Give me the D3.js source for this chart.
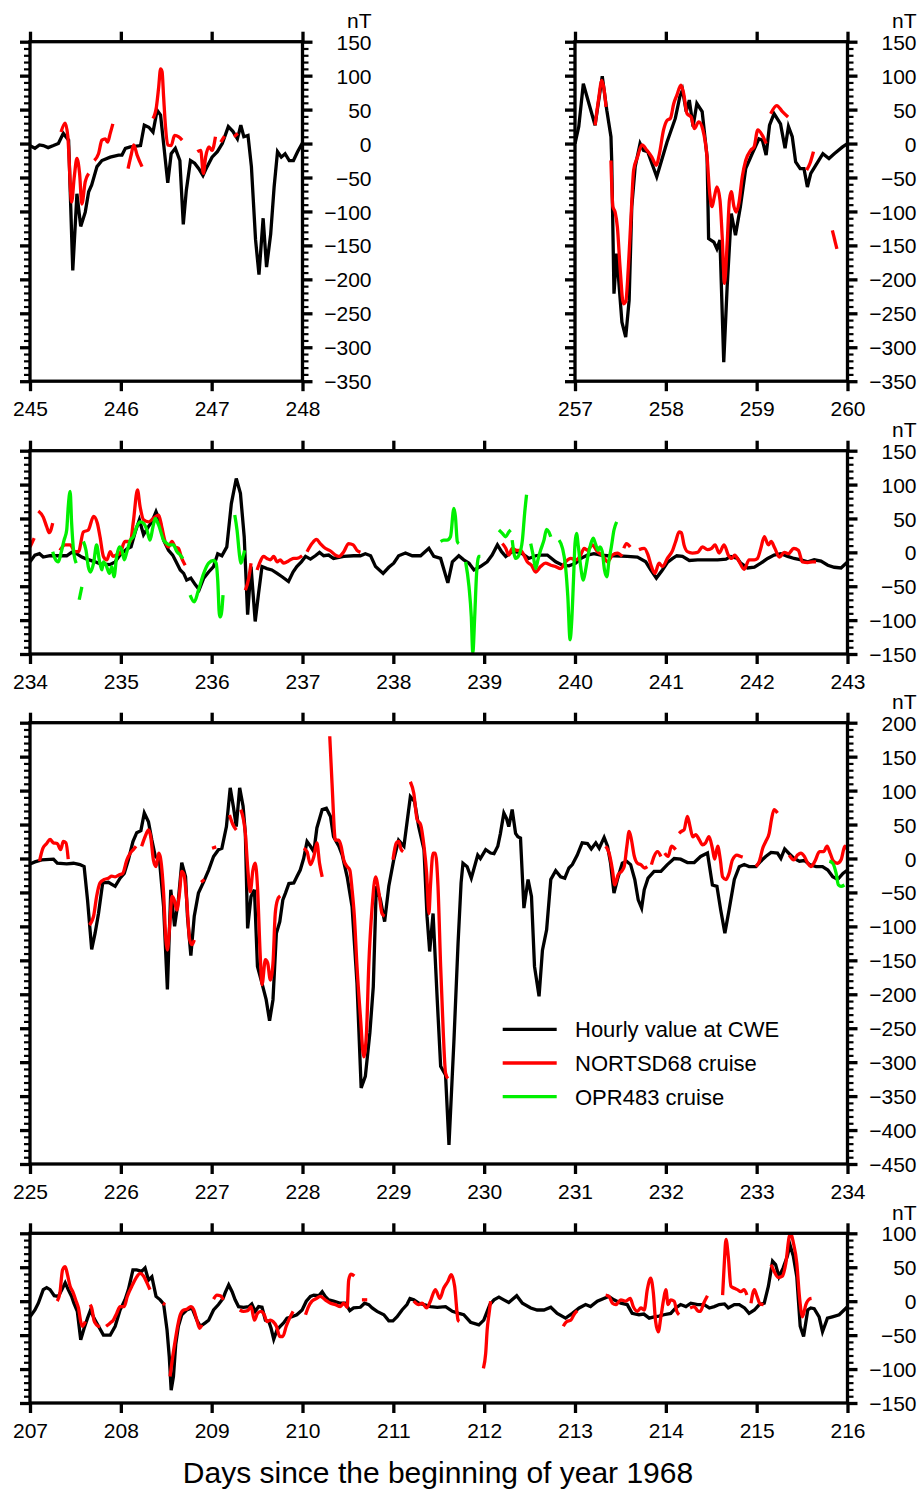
<!DOCTYPE html>
<html><head><meta charset="utf-8">
<script src="https://cdn.jsdelivr.net/npm/d3@7"></script>
<style>body{margin:0;background:#fff}svg text{font-family:"Liberation Sans",Arial,Helvetica,sans-serif;fill:#000}</style>
</head><body><svg id="c" width="922" height="1489"></svg>
<script>
// ---------- DATA (time as hours since each panel's start day, values in nT) ----------
const seriesNames = ["Hourly value at CWE", "NORTSD68 cruise", "OPR483 cruise"];
const xTitle = "Days since the beginning of year 1968";
const unitLabel = "nT";

// Panel A: days 245-248
const daysA = [245, 248], nTA = [-350, 150];
const cweA = [[0,-3],[1.3,-7],[2.5,-2],[3.5,-3],[4.8,-6],[6.2,-3],[7.5,0],[8.8,15],[10.2,5],[11.3,-187],[12.4,-74],[13.4,-122],[14.6,-101],[15.5,-71],[16.3,-61],[17.7,-34],[19,-25],[21.2,-20],[23.4,-17],[24.3,-17],[25.2,-7],[26.5,-5],[29.2,-3],[30.2,27],[31.4,24],[32.5,17],[33.6,49],[34.5,42],[35.3,0],[36.4,-58],[37.3,-15],[38.4,-7],[39.6,-25],[40.5,-119],[41.3,-69],[42.4,-25],[43.5,-29],[44.6,-37],[45.7,-47],[46.8,-34],[48.1,-20],[49.5,-12],[50.8,0],[52.4,25],[53.6,18],[54.8,7],[55.7,27],[56.5,10],[57.6,12],[58.5,-34],[59.6,-142],[60.5,-193],[61.6,-110],[62.5,-182],[63.6,-133],[64.5,-64],[65.4,-12],[66.4,-20],[67.4,-15],[68.5,-25],[69.6,-25],[70.7,-12],[72,1]];
const nortA = [
 [[8.2,17],[9.3,30],[10.0,10],[11.0,-86],[11.7,-49],[12.4,-22],[13.1,-44],[13.7,-89],[14.6,-56],[15.5,-44]],
 [[17.0,-25],[18.1,-15],[19.0,5],[19.9,7],[20.5,2],[21.2,15],[21.9,29]],
 [[25.9,-37],[26.8,-15],[27.4,-2],[28.3,-17],[29.6,-34]],
 [[32.5,37],[33.4,54],[34.0,83],[34.5,110],[34.9,106],[35.3,69],[35.8,25],[36.4,-2],[37.3,-3],[38.2,12],[39.3,10],[40.2,5]],
 [[44.2,-12],[45.1,-10],[45.8,-44],[46.4,-20],[47.3,-5],[48.1,-10],[49.0,10]],
 [[50.4,2],[51.4,11]],
 [[53.9,10],[54.9,15]]
];
const oprA = [];

// Panel B: days 257-260
const daysB = [257, 260], nTB = [-350, 150];
const cweB = [[0,0],[1,25],[2.2,88],[5.3,27],[7.2,99],[8.4,49],[9.5,10],[9.7,-25],[10.3,-221],[11.0,-162],[12.4,-263],[13.4,-285],[14.3,-231],[15.0,-93],[15.9,-34],[17.2,0],[18.1,-10],[19.2,-12],[21.6,-49],[22.5,-32],[24.3,2],[26.5,37],[27.7,69],[28.4,79],[29.4,47],[30.2,64],[31.2,25],[32.2,59],[33.6,47],[34.9,-20],[35.3,-140],[36.7,-145],[37.5,-155],[38.3,-142],[39.3,-322],[40.2,-211],[41.3,-103],[42.4,-135],[43.7,-93],[45.1,-37],[46.8,-15],[48.6,7],[49.5,5],[50.5,-17],[51.4,27],[52.6,44],[54.3,29],[55.5,-7],[56.4,25],[57.4,10],[58.3,-27],[59.5,-37],[60.5,-37],[61.4,-64],[62.3,-44],[63.6,-32],[65.5,-15],[67.1,-22],[68.5,-15],[70.7,-5],[72,0]];
const nortB = [
 [[5.3,27],[6.2,64],[7.1,93],[7.7,79],[8.2,54]],
 [[9.5,-25],[10.0,-93],[10.6,-101],[11.2,-123],[11.9,-182],[12.8,-236],[13.4,-233],[14.1,-182],[14.8,-108],[15.5,-39],[16.5,-20],[17.7,-2],[19.0,-10],[20.3,-20],[21.5,-32],[22.3,-15],[23.4,20],[24.3,34],[25.2,37],[26.1,59],[26.9,71],[28.0,86],[28.7,74],[29.6,44],[30.7,39],[31.5,22],[32.7,32],[33.8,20],[34.9,-20],[35.6,-74],[36.2,-93],[36.8,-79],[37.5,-64],[38.3,-83],[38.9,-138],[39.5,-206],[40.2,-147],[40.8,-83],[41.3,-71],[42.0,-93],[42.6,-101],[43.3,-88],[44.2,-49],[45.1,-25],[46.4,-10],[47.3,-5],[48.3,20],[49.5,12],[50.5,0]],
 [[51.7,44],[53.3,56],[54.8,47],[56.3,39]],
 [[61.2,-39],[62.1,-29],[63.0,-12]],
 [[68.0,-128],[69.2,-155]]
];
const oprB = [];

// Panel C: days 234-243
const daysC = [234, 243], nTC = [-150, 150];
const cweC = [[0,-14],[1.3,-4],[2.5,-2],[3.5,-7],[5.3,-5],[7.5,-5],[9.7,-5],[11,0],[12.3,-2],[13.7,-7],[15,-10],[17.2,-14],[18.5,-17],[21.2,-18],[22.5,-14],[23.8,-4],[25.6,5],[26.7,8],[27.8,30],[28.9,48],[30,26],[31.3,38],[32.2,45],[33.3,60],[34.4,45],[35.3,18],[36.6,3],[37.7,-4],[38.6,-14],[39.7,-26],[40.6,-31],[41.4,-41],[42.5,-38],[43.7,-48],[44.7,-55],[45.9,-38],[47.2,-29],[48.5,-21],[49.6,-2],[50.7,-5],[52,8],[53.2,72],[54.5,109],[55.6,87],[56.6,23],[57.5,-92],[58.4,-21],[59.5,-102],[60.4,-60],[61.3,-21],[62.6,-24],[63.9,-26],[65.3,-31],[66.6,-36],[68.3,-43],[69.5,-29],[70.5,-21],[71.7,-14],[72.8,-6],[74.1,-10],[75.4,-5],[76.5,0],[77.6,-5],[78.9,-4],[80.2,-9],[82.9,-6],[85.5,-5],[87.3,-5],[88.6,-2],[90,-5],[91.3,-21],[93.3,-31],[94.8,-22],[96.1,-16],[97.4,-5],[99.2,-1],[101,-5],[103.2,-5],[105.4,6],[106.7,-6],[108.5,-9],[110.4,-45],[111.6,-14],[113.3,-5],[114.6,-11],[116,-16],[117.3,-26],[119,-21],[120.8,-14],[122.1,-4],[123.5,11],[124.6,1],[125.7,-6],[127.4,1],[129.6,0],[131.8,-9],[133.6,-5],[134.9,-4],[136.7,-4],[138.9,-14],[140.7,-19],[142.4,-20],[144.2,-16],[145.5,-9],[147.3,-4],[149,-2],[150.8,-4],[152.6,-5],[154.3,-5],[157.8,-6],[160.5,-7],[162.7,-14],[164,-26],[165.5,-38],[167.1,-26],[168.4,-15],[169.8,-9],[170.9,-5],[172.4,-6],[174.2,-12],[176.4,-11],[179,-11],[181.7,-11],[183.9,-10],[185.2,-6],[186.9,-9],[187.8,-16],[189.6,-23],[191.4,-22],[193.1,-16],[194.9,-9],[196.6,-4],[198.4,-2],[200.2,-6],[201.9,-9],[203.7,-11],[205.5,-14],[207.2,-11],[209,-13],[210.8,-19],[212.5,-22],[214.3,-23],[216,-14]];
const nortC = [
 [[0,8],[1.1,21]],
 [[2.2,61],[3.5,52],[4.4,38],[5.1,29],[6.0,43]],
 [[7.9,3],[9.3,11],[10.6,11],[11.9,1],[12.8,1],[14.1,30],[15.4,33],[16.8,53],[17.8,43],[18.5,23],[19.4,-6],[20.3,-11],[21.2,1],[21.9,-6],[22.8,-4],[23.8,-1],[25.1,16],[26.5,16],[27.3,45],[28.4,92],[29.1,67],[30.0,48],[31.3,45],[32.6,50],[34.0,55],[34.8,38],[35.7,16],[36.6,8],[37.5,16],[38.4,8],[39.2,6],[40.1,-9],[41.0,-19]],
 [[56.9,-56],[57.8,-38],[58.4,-16]],
 [[60.0,-26],[60.8,-14],[61.7,-6],[62.6,-9],[63.5,-11],[64.4,-6],[65.3,-14],[66.1,-11],[67.0,-16],[67.9,-14],[68.8,-11],[69.7,-9],[70.5,-9],[71.9,-5]],
 [[73.2,1],[74.5,13],[75.7,19],[76.7,13],[78.0,6],[79.4,2],[80.7,-4],[81.6,-6],[82.9,1],[84.2,13],[85.4,11],[86.4,3],[87.3,0]],
 [[124.8,13],[125.7,6],[126.5,-4],[127.4,6],[128.6,3],[129.6,3],[130.5,-4],[131.4,-14],[132.5,-19],[133.6,-29],[134.9,-21],[136.2,-16],[137.6,-19],[138.9,-21],[140.2,-24],[141.5,-14],[142.9,-9],[144.2,-11],[145.5,-4],[146.4,6],[147.3,3],[148.6,11],[149.9,1],[151.2,-4],[152.6,-14],[153.9,-4],[155.2,-1],[156.5,-6]],
 [[156.9,6],[157.6,13],[158.6,8]],
 [[160.9,4],[162.3,6],[163.3,-4],[164.2,-21],[165.1,-31],[166.2,-16],[167.1,-21],[168.4,-9],[169.8,3],[170.6,16],[171.5,30],[172.1,29],[172.8,11],[173.7,1],[175.0,-1],[176.4,0],[177.7,8],[179.0,4],[180.1,6],[181.0,11],[182.1,-1],[183.4,11],[184.5,-4],[185.4,-9],[186.2,-4],[187.4,-14],[188.7,-25],[190.0,-11],[191.4,-11],[192.2,-9],[193.1,6],[194.0,23],[195.1,11],[195.8,16],[196.8,6],[198.0,-7],[199.3,0],[200.4,-2],[201.8,6],[203.0,3],[204.1,-14],[205.5,-15],[206.8,-14],[207.7,-14]]
];
const oprC = [
 [[6.0,1],[6.6,-9],[7.5,-14],[8.2,-1],[9.0,18],[9.7,33],[10.1,67],[10.6,90],[11.0,43],[11.5,3],[12.2,-16]],
 [[13.0,-70],[13.7,-51]],
 [[14.1,16],[14.8,3],[15.4,-21],[16.0,-29],[16.8,-16],[17.6,11],[18.3,-11],[19.0,-26],[19.4,-14],[20.1,-19],[21.0,-31],[21.6,-21],[22.2,-36],[22.9,-6],[23.6,8],[24.3,3],[24.9,-11],[25.6,1],[26.5,18],[27.3,23],[28.2,38],[29.1,45],[30.0,43],[30.9,33],[31.7,18],[32.5,38],[33.1,50],[34.0,40],[35.3,18],[36.2,13],[37.0,11],[37.9,11],[38.8,1],[39.7,-4],[40.4,-9]],
 [[42.3,-63],[43.4,-73],[44.5,-56],[45.9,-31],[47.2,-16],[48.5,-12],[49.2,-16],[49.6,-41],[50.1,-95],[50.4,-95],[51.0,-63]],
 [[54.1,55],[54.7,33],[55.4,-6],[55.7,-16],[56.3,-6],[56.7,3]],
 [[108.5,16],[109.3,18],[110.2,18],[111.1,23],[112.0,65],[112.4,53],[112.9,16],[113.3,13]],
 [[115.1,-14],[116.0,-51],[116.6,-95],[117.0,-148],[117.5,-95],[118.0,-31],[118.6,-6],[119.0,-6]],
 [[123.9,33],[124.8,28],[125.7,23],[126.5,30],[127.0,33]],
 [[127.4,18],[128.3,-9],[129.2,-4],[130.1,18],[130.7,58],[131.2,85]],
 [[132.3,13],[133.0,-6],[133.6,-24],[134.2,-11],[134.9,3],[135.8,18],[136.5,34],[137.1,30],[137.6,23]],
 [[139.8,18],[140.7,6],[141.5,-21],[142.1,-65],[142.7,-129],[143.1,-105],[143.6,-41],[144.0,13],[144.4,28],[144.9,8],[145.5,-21],[146.2,-41],[146.8,-26],[147.4,-6],[148.1,11],[148.8,21],[149.4,13],[150.1,3],[150.6,8],[151.2,1],[151.8,-26],[152.4,-36],[153.0,-11],[153.6,8],[154.3,33],[155.0,45]]
];

// Panel D: days 225-234
const daysD = [225, 234], nTD = [-450, 200];
const cweD = [[0,-8],[1.3,-5],[3.1,-2],[6.2,-1],[7.2,-7],[9.7,-8],[11.5,-7],[13.2,-9],[14.3,-12],[15.2,-61],[16.3,-134],[17.2,-110],[18.1,-81],[19.2,-36],[20.7,-35],[22.5,-41],[23.8,-29],[24.9,-22],[26.0,-2],[27.2,25],[28.2,38],[29.3,41],[30.2,67],[31.3,54],[32.2,27],[33.1,3],[34.2,-2],[35.3,-71],[36.3,-193],[37.2,-46],[38.2,-100],[39.2,-61],[40.1,-6],[41.1,-27],[41.6,-85],[42.5,-143],[43.4,-85],[44.5,-51],[45.9,-34],[47.2,-17],[48.5,3],[49.8,13],[50.7,15],[51.9,47],[52.9,104],[53.8,74],[54.5,47],[55.4,104],[56.3,77],[56.9,37],[57.5,-103],[58.4,-56],[59.3,-46],[60.1,-159],[61.3,-184],[62.4,-208],[63.3,-239],[64.2,-208],[65.1,-110],[66.0,-93],[66.8,-61],[67.5,-51],[68.4,-37],[69.7,-36],[70.5,-27],[71.4,-17],[72.3,0],[73.2,25],[74.1,18],[75.0,10],[75.8,45],[77.2,72],[78.3,74],[79.4,62],[80.2,32],[81.6,18],[82.5,5],[83.8,-27],[85.1,-71],[86.4,-184],[87.5,-338],[88.6,-321],[89.8,-257],[90.7,-189],[91.5,-41],[92.6,-61],[93.7,-93],[94.8,-41],[96.1,-2],[97.4,27],[98.8,18],[100.5,91],[101.6,84],[102.7,47],[104.1,13],[104.9,-85],[105.6,-137],[106.5,-81],[107.6,-208],[108.5,-306],[109.8,-319],[110.7,-422],[112.0,-270],[113.1,-125],[113.9,-36],[114.4,-7],[115.5,-12],[116.6,-29],[117.7,-7],[118.3,5],[119.0,0],[120.4,13],[121.7,8],[122.6,7],[123.6,18],[124.3,37],[125.2,67],[125.9,59],[126.5,47],[127.4,72],[128.3,37],[128.9,32],[129.6,30],[130.5,-73],[131.6,-31],[132.5,-56],[133.3,-159],[134.5,-203],[135.4,-135],[136.5,-105],[137.6,-31],[138.9,-18],[140.2,-27],[141.3,-29],[142.4,-14],[143.3,-9],[144.6,5],[145.9,23],[147.3,22],[148.3,14],[149.5,23],[150.4,15],[151.7,31],[152.6,18],[153.4,-7],[154.3,-51],[155.2,-31],[156.5,-7],[157.6,-4],[158.7,-9],[159.8,-31],[160.7,-61],[161.6,-73],[162.3,-46],[163.3,-29],[164.9,-19],[166.7,-19],[168.4,-9],[170.2,0],[171.9,-1],[173.7,-6],[175.5,-6],[177.2,3],[179.0,8],[180.3,-39],[181.5,-41],[182.5,-76],[183.6,-110],[184.7,-76],[186.1,-31],[187.4,-12],[188.7,-9],[190.0,-12],[191.8,-12],[193.1,-4],[194.4,3],[195.8,9],[197.5,8],[198.4,0],[199.4,14],[200.6,7],[201.9,0],[203.3,-4],[204.6,-3],[206.0,-9],[207.7,-12],[209.4,-12],[210.8,-17],[212.1,-27],[213.4,-31],[214.8,-22],[216,-17]];
const nortD = [
 [[2.5,-4],[3.4,15],[4.4,22],[5.3,28],[6.2,23],[7.2,22],[8.1,13],[8.8,25],[9.5,23],[10.1,-1]],
 [[15.7,-98],[16.8,-85],[17.6,-56],[18.5,-36],[19.6,-31],[20.7,-29],[21.6,-26],[22.5,-27],[23.6,-24],[24.5,-22],[25.6,-2],[26.5,8],[27.3,13],[28.0,18]],
 [[29.5,18],[30.4,32],[31.3,42],[31.9,32],[32.6,-2],[33.3,-12],[34.0,8],[34.4,3],[35.3,-51],[35.9,-120],[36.3,-135],[36.9,-100],[37.5,-56],[38.1,-61],[38.8,-76],[39.5,-51],[40.1,-19],[40.7,-24],[41.4,-61],[42.2,-120],[42.8,-127],[43.4,-120]],
 [[45.2,-35],[46.1,-31]],
 [[48.1,15],[49.2,17]],
 [[52.7,64],[53.6,50],[54.5,42]],
 [[55.7,72],[56.9,37],[57.5,-12],[58.2,-49],[58.9,-17],[59.5,-7],[60.1,-41],[60.8,-139],[61.3,-186],[62.2,-149],[62.8,-154],[63.5,-179],[64.2,-154],[64.8,-81],[65.4,-61],[66.1,-55]],
 [[72.3,15],[73.2,10],[74.1,-9],[75.0,3],[75.8,23],[76.5,-7],[77.2,-27]],
 [[79.2,180],[79.8,111],[80.7,27],[81.6,27],[82.2,18],[82.9,-2],[83.8,-12],[84.5,-17],[85.1,-46],[85.7,-85],[86.4,-159],[87.3,-233],[88.2,-292],[88.9,-257],[89.5,-159],[90.4,-71],[91.3,-27],[92.2,-51],[93.0,-81],[93.7,-85]],
 [[95.9,-2],[96.8,23],[97.4,25],[98.1,13],[98.6,10]],
 [[100.5,113],[101.4,96],[102.3,57],[103.2,50],[104.1,18],[104.8,-22],[105.4,-81],[105.8,-41],[106.5,8],[107.1,8],[107.8,-41],[108.5,-159],[109.2,-257],[109.8,-316],[110.4,-324]],
 [[152.1,18],[153.0,8],[153.9,-17],[154.5,-39],[155.4,-24],[156.3,-19],[157.0,-12],[157.7,18],[158.3,40],[158.9,28],[159.6,5],[160.5,-7],[161.4,-9],[162.4,-14],[163.1,-12]],
 [[164.2,-9],[164.9,3],[165.8,10],[166.7,3]],
 [[167.7,8],[168.6,3],[169.5,18],[170.6,13]],
 [[171.5,37],[172.1,40],[172.8,42],[173.7,62],[174.4,47],[175.1,32],[175.9,35],[176.8,28],[177.7,20],[178.5,23],[179.4,32],[180.3,15],[180.9,-1],[181.7,18],[182.4,-2],[183.0,-27],[183.9,-31],[184.7,-22],[185.6,-2],[186.8,5],[187.8,3],[188.3,2]],
 [[191.8,-12],[192.7,-4],[193.6,15],[194.4,25],[195.3,37],[195.9,57],[196.6,72],[197.5,67]],
 [[200.6,5],[201.8,-2],[202.8,5],[203.7,8],[204.6,3],[205.5,-7],[206.3,-12],[207.4,-4],[208.6,10],[209.7,10],[210.6,18],[211.4,8],[212.3,-4],[213.4,-7],[214.3,-2],[215.3,18],[216.0,13]]
];
const oprD = [
 [[211.2,-4],[212.1,-7],[213.0,-22],[213.6,-39],[214.3,-41],[215.2,-39]]
];

// Panel E: days 207-216
const daysE = [207, 216], nTE = [-150, 100];
const cweE = [[0,-23],[1.3,-13],[2.2,-3],[3.5,17],[4.4,20],[5.3,17],[6.4,8],[7.5,7],[8.4,17],[9.3,27],[10.1,17],[11.0,7],[11.6,-3],[12.5,-15],[13.4,-57],[14.3,-40],[15.2,-25],[16.0,-13],[16.9,-25],[18.1,-37],[19.4,-50],[21.2,-50],[22.5,-37],[23.8,-13],[25.1,2],[26.0,17],[27.2,46],[28.2,46],[29.5,44],[30.4,49],[31.3,31],[32.2,36],[33.3,7],[34.4,2],[35.3,-4],[36.2,-42],[36.8,-82],[37.3,-131],[37.9,-111],[38.5,-64],[39.2,-37],[40.1,-20],[41.4,-13],[42.8,-10],[44.1,-28],[45.0,-37],[46.3,-32],[47.2,-28],[48.5,-13],[49.8,-5],[51.0,4],[51.6,13],[52.5,24],[53.4,14],[54.2,2],[55.1,-8],[56.4,-9],[57.8,-8],[58.6,-4],[59.5,-15],[60.4,-8],[61.3,-9],[62.2,-28],[63.1,-30],[63.7,-40],[64.4,-56],[65.3,-42],[66.1,-37],[67.0,-32],[67.9,-25],[69.2,-23],[70.5,-20],[71.9,-13],[73.0,0],[74.1,7],[75.0,9],[76.3,8],[77.2,14],[78.0,7],[78.9,2],[80.2,0],[82.0,-3],[83.3,-3],[84.5,-14],[85.5,-10],[87.3,-9],[88.4,-3],[89.5,-5],[90.4,-10],[91.7,-15],[93.5,-20],[94.8,-29],[95.9,-29],[97.0,-23],[98.3,-13],[99.6,-5],[100.4,4],[101.4,2],[102.7,-3],[104.1,-5],[105.8,-8],[107.6,-9],[109.8,-8],[111.6,-15],[113.3,-18],[114.6,-20],[116.4,-31],[118.6,-35],[119.9,-28],[121.5,-5],[122.6,2],[123.9,6],[125.2,2],[126.5,-2],[128.6,8],[130.1,-3],[132.3,-10],[134.0,-13],[135.8,-13],[137.6,-9],[139.3,-18],[141.5,-25],[143.3,-18],[145.1,-10],[146.8,-5],[148.1,-8],[149.9,0],[151.6,4],[152.9,7],[154.3,2],[156.1,-3],[157.8,-5],[159.1,-18],[160.9,-20],[162.2,-19],[163.6,-25],[164.9,-23],[166.2,-22],[167.5,-20],[169.3,-18],[170.6,-10],[171.9,-5],[173.3,-8],[174.6,-3],[176.4,-5],[178.1,-5],[179.5,-10],[180.8,-8],[182.1,-5],[183.5,-4],[184.5,-10],[186.1,-5],[187.4,-5],[188.8,-10],[190.0,-18],[191.4,-13],[192.7,-5],[194.0,-3],[195.1,22],[196.2,59],[197.0,54],[197.9,36],[199.0,49],[200.1,66],[200.8,83],[201.7,66],[202.6,36],[203.5,-37],[204.4,-52],[205.5,-13],[206.3,-10],[207.2,-11],[208.5,-23],[209.4,-45],[210.7,-25],[212.0,-23],[213.8,-20],[215.1,-13],[216.0,-8]];
const nortE = [
 [[7.2,0],[7.9,12],[8.6,46],[9.3,51],[9.9,39],[10.6,22],[11.3,14],[12.2,0],[12.8,-10],[13.4,-30],[13.9,-37],[14.6,-30]],
 [[15.9,-5],[16.3,-10],[16.9,-28],[17.6,-35],[18.5,-38]],
 [[20.1,-37],[21.2,-32],[22.0,-28],[22.9,-18],[23.8,-8],[24.9,-8],[25.7,7],[26.9,22],[28.0,34],[29.1,41],[30.0,37],[30.9,27],[31.7,17]],
 [[35.1,-3],[35.7,-5]],
 [[37.0,-111],[37.7,-82],[38.4,-57],[39.0,-37],[39.7,-20],[40.6,-13],[41.4,-12],[42.5,-8],[43.2,-12],[44.1,-28],[44.8,-40],[45.4,-35]],
 [[48.5,3],[49.4,9],[50.3,8],[51.1,2]],
 [[55.4,-13],[56.4,-15],[57.5,-14],[58.4,-8],[59.3,-28],[60.1,-18],[61.0,-15],[61.9,-20],[62.6,-30],[63.5,-28],[64.2,-30],[65.1,-37],[66.0,-52],[66.8,-52],[67.7,-37],[68.6,-25],[69.5,-15]],
 [[72.8,-20],[73.6,-8],[74.5,0],[75.7,4],[76.7,7],[78.0,2],[79.4,-3],[80.7,-5],[82.0,-8],[82.9,-3],[83.8,-9],[84.2,31],[84.8,40],[85.7,37]],
 [[87.7,2],[89.1,2]],
 [[101.4,0],[102.7,-5],[103.6,-3],[104.8,-10],[105.8,0],[107.1,17],[108.3,4],[109.3,19],[110.4,29],[111.3,39],[112.2,22],[113.1,-28],[113.4,-30]],
 [[119.8,-99],[120.4,-77],[120.8,-42],[121.3,-18],[121.7,0]],
 [[140.9,-37],[141.8,-30],[142.9,-28],[143.7,-20],[144.6,-14]],
 [[152.1,9],[153.0,7],[153.9,-3],[154.8,-5],[156.1,2],[157.4,0],[158.6,4],[159.4,-8],[160.5,-15],[161.4,-10],[162.3,-13],[163.1,17],[164.0,34],[164.7,12],[165.3,-30],[166.0,-45],[166.7,-23],[167.4,2],[168.0,17],[168.6,-5],[169.3,2],[170.2,0],[170.9,-15],[171.5,-20]],
 [[174.4,-10],[175.5,-8],[176.4,-14],[177.1,-15],[178.0,-3],[179.0,8]],
 [[183.0,9],[183.4,51],[183.9,91],[184.5,66],[185.2,22],[186.1,19],[186.9,17],[187.8,14],[188.7,17],[189.4,9]],
 [[190.5,-3],[191.4,17],[192.1,7],[192.9,-4],[193.8,-5]],
 [[195.8,54],[196.6,44],[197.7,35],[198.8,37],[199.7,56],[200.6,95],[201.0,100],[201.7,86],[202.6,56],[203.3,7],[204.1,-23],[205.0,-5],[205.9,3],[206.5,4]]
];
const oprE = [];

// ---------- LAYOUT ----------
const panels = [
  {days: daysA, nT: nTA, cwe: cweA, nort: nortA, opr: oprA, box: {x0: 30, x1: 302.5, y0: 41.7, y1: 381.2}},
  {days: daysB, nT: nTB, cwe: cweB, nort: nortB, opr: oprB, box: {x0: 575, x1: 847.5, y0: 41.7, y1: 381.2}},
  {days: daysC, nT: nTC, cwe: cweC, nort: nortC, opr: oprC, box: {x0: 30, x1: 847.5, y0: 450.7, y1: 654}},
  {days: daysD, nT: nTD, cwe: cweD, nort: nortD, opr: oprD, box: {x0: 30, x1: 847.5, y0: 722.7, y1: 1164}},
  {days: daysE, nT: nTE, cwe: cweE, nort: nortE, opr: oprE, box: {x0: 30, x1: 847.5, y0: 1233.3, y1: 1403}}
];
const colors = ["#000000", "#ff0000", "#00f000"];
const LW = 3.3;
const svg = d3.select("#c");
const defs = svg.append("defs");
const fmt = d3.format("d");
const FF = '"Liberation Sans",Arial,Helvetica,sans-serif';

panels.forEach((P, i) => {
  const B = P.box;
  const x = d3.scaleLinear().domain(P.days).range([B.x0, B.x1]);
  const y = d3.scaleLinear().domain(P.nT).range([B.y1, B.y0]);
  const start = P.days[0];
  const cid = "clip" + i;
  defs.append("clipPath").attr("id", cid).append("rect")
    .attr("x", B.x0).attr("y", B.y0).attr("width", B.x1 - B.x0).attr("height", B.y1 - B.y0);
  const g = svg.append("g");
  const plot = g.append("g").attr("clip-path", `url(#${cid})`);
  const lineStep = d3.line().x(d => x(start + d[0] / 24)).y(d => y(d[1]));
  const lineSmooth = d3.line().curve(d3.curveMonotoneX).x(d => x(start + d[0] / 24)).y(d => y(d[1]));
  plot.append("path").datum(P.cwe).attr("d", lineStep)
    .attr("fill", "none").attr("stroke", colors[0]).attr("stroke-width", LW);
  P.nort.forEach(s => plot.append("path").datum(s).attr("d", lineSmooth)
    .attr("fill", "none").attr("stroke", colors[1]).attr("stroke-width", LW));
  P.opr.forEach(s => plot.append("path").datum(s).attr("d", lineSmooth)
    .attr("fill", "none").attr("stroke", colors[2]).attr("stroke-width", LW));

  const dayTicks = d3.range(P.days[0], P.days[1] + 1);
  const major = d3.range(P.nT[0], P.nT[1] + 1, 50);
  const minor = d3.range(P.nT[0], P.nT[1] + 1, 10).filter(v => v % 50 !== 0);

  const axB = g.append("g").attr("transform", `translate(0,${B.y1})`)
    .call(d3.axisBottom(x).tickValues(dayTicks).tickSize(10).tickSizeOuter(0).tickFormat(fmt));
  const axT = g.append("g").attr("transform", `translate(0,${B.y0})`)
    .call(d3.axisTop(x).tickValues(dayTicks).tickSize(10).tickSizeOuter(0).tickFormat(""));
  const yl = g.append("g").attr("transform", `translate(${B.x0},0)`)
    .call(d3.axisLeft(y).tickValues(minor).tickSize(6).tickSizeOuter(0).tickFormat(""));
  const ylM = g.append("g").attr("transform", `translate(${B.x0},0)`)
    .call(d3.axisLeft(y).tickValues(major).tickSize(10).tickSizeOuter(0).tickFormat(""));
  const yr = g.append("g").attr("transform", `translate(${B.x1},0)`)
    .call(d3.axisRight(y).tickValues(minor).tickSize(6).tickSizeOuter(0).tickFormat(""));
  const yrM = g.append("g").attr("transform", `translate(${B.x1},0)`)
    .call(d3.axisRight(y).tickValues(major).tickSize(10).tickSizeOuter(0).tickFormat(fmt));

  [axB, axT, yl, ylM, yr, yrM].forEach(a => { a.select(".domain").remove(); a.selectAll("line").attr("stroke", "#000"); });
  [axB, axT, ylM, yrM].forEach(a => a.selectAll("line").attr("stroke-width", 3.3));
  [yl, yr].forEach(a => a.selectAll("line").attr("stroke-width", 2.2));

  axB.selectAll("text").attr("y", 35).attr("dy", null).attr("font-size", 21).style("font-family", FF);
  yrM.selectAll("text").attr("x", 69).attr("text-anchor", "end").attr("dy", "0.36em")
    .attr("font-size", 21).style("font-family", FF);
  g.append("text").attr("x", B.x1 + 69).attr("y", B.y0 - 13.4).attr("text-anchor", "end")
    .attr("font-size", 21).text(unitLabel);

  g.append("rect").attr("x", B.x0).attr("y", B.y0).attr("width", B.x1 - B.x0).attr("height", B.y1 - B.y0)
    .attr("fill", "none").attr("stroke", "#000").attr("stroke-width", 3.3);
});

// legend (inside panel D)
const leg = svg.append("g");
seriesNames.forEach((n, k) => {
  const yy = 1029.3 + k * 33.7;
  leg.append("line").attr("x1", 502.7).attr("x2", 556.7).attr("y1", yy).attr("y2", yy)
    .attr("stroke", colors[k]).attr("stroke-width", LW);
  leg.append("text").attr("x", 575).attr("y", yy + 8).attr("font-size", 22).text(n);
});

svg.append("text").attr("x", 438).attr("y", 1483).attr("text-anchor", "middle")
  .attr("font-size", 30).text(xTitle);
</script>
</body></html>
